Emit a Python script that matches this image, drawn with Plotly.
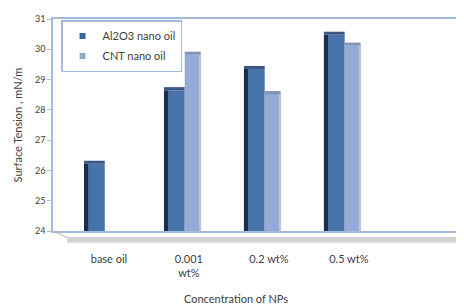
import plotly.graph_objects as go

categories = ["base oil", "0.001<br>wt%", "0.2 wt%", "0.5 wt%"]
series_names = ["Al2O3 nano oil", "CNT nano oil"]
al2o3_values = [26.22, 28.65, 29.35, 30.48]
cnt_values = [None, 29.82, 28.52, 30.12]
y_ticks = [24, 25, 26, 27, 28, 29, 30, 31]

FLOOR = 23.78   # bars run down onto the 3D floor
CAP = 0.1       # depth of the 3D top cap


def heights(vals):
    return [None if v is None else v - FLOOR for v in vals]


def caps(vals):
    return [None if v is None else CAP for v in vals]


fig = go.Figure()
common = dict(x=categories, hoverinfo="skip", showlegend=False, cliponaxis=False)

# Al2O3 dark side
fig.add_trace(go.Bar(y=heights(al2o3_values), base=FLOOR, offset=-0.3125, width=0.06,
                     marker=dict(color="#1C2D4A", line=dict(width=0)), **common))
# Al2O3 front
fig.add_trace(go.Bar(y=heights(al2o3_values), base=FLOOR, offset=-0.2575, width=0.205,
                     marker=dict(color="#4773AA", line=dict(width=0)), **common))
# Al2O3 top cap
fig.add_trace(go.Bar(y=caps(al2o3_values), base=al2o3_values, offset=-0.3125, width=0.26,
                     marker=dict(color="#3A5784", line=dict(width=0)), **common))
# CNT front
fig.add_trace(go.Bar(y=heights(cnt_values), base=FLOOR, offset=-0.0525, width=0.2,
                     marker=dict(color="#95AAD4", line=dict(width=0)), **common))
# CNT light edge
fig.add_trace(go.Bar(y=heights(cnt_values), base=FLOOR, offset=0.125, width=0.028,
                     marker=dict(color="#B6C5E3", line=dict(width=0)), **common))
# CNT top cap
fig.add_trace(go.Bar(y=caps(cnt_values), base=[None if v is None else v for v in cnt_values],
                     offset=-0.0525, width=0.2,
                     marker=dict(color="#7F92B8", line=dict(width=0)), **common))

# legend entries (small square keys as in the original)
for name, col in zip(series_names, ["#3D659C", "#8EA5D1"]):
    fig.add_trace(go.Scatter(x=[None], y=[None], mode="markers", name=name,
                             marker=dict(symbol="square", size=6, color=col),
                             legendgroup=name))

frame = "#A3BADC"
fig.update_layout(
    width=456, height=299,
    margin=dict(l=45, r=8, t=5, b=76),
    plot_bgcolor="white", paper_bgcolor="white",
    barmode="overlay",
    font=dict(family="Lato, Open Sans, sans-serif", color="#454545"),
    xaxis=dict(range=[-0.7, 4.34], showline=True, mirror=True, linecolor=frame,
               linewidth=1.5, ticks="", tickfont=dict(size=11, color="#404040"),
               showgrid=False, zeroline=False, ticklabelstandoff=17),
    yaxis=dict(range=[24, 31], tickvals=y_ticks, showline=True, mirror=True,
               linecolor=frame, linewidth=1.5, ticks="outside", ticklen=4,
               tickcolor="#BFBFBF", tickfont=dict(size=9, color="#404040"),
               showgrid=False, zeroline=False,
               title=dict(text="Surface Tension , mN/m", font=dict(size=11, color="#404040"),
                          standoff=10)),
    legend=dict(x=0.02, y=0.995, xanchor="left", yanchor="top",
                bordercolor=frame, borderwidth=1.5, bgcolor="white",
                font=dict(size=11, color="#404040"), tracegroupgap=1,
                traceorder="grouped", itemwidth=30),
    showlegend=True,
    shapes=[
        dict(type="rect", xref="paper", yref="paper", x0=0.035, x1=1.03, y0=-0.055, y1=-0.028,
             fillcolor="#D3D3D3", line=dict(width=0), layer="below"),
        dict(type="line", xref="paper", yref="paper", x0=0.0, y0=0.0, x1=0.035, y1=-0.03,
             line=dict(color="#B8B8B8", width=1)),
    ],
    annotations=[
        dict(text="Concentration of NPs", xref="paper", yref="paper", x=0.454, y=-0.317,
             showarrow=False, font=dict(size=11, color="#404040"), yanchor="middle"),
    ],
)

fig.write_html("out.html")
